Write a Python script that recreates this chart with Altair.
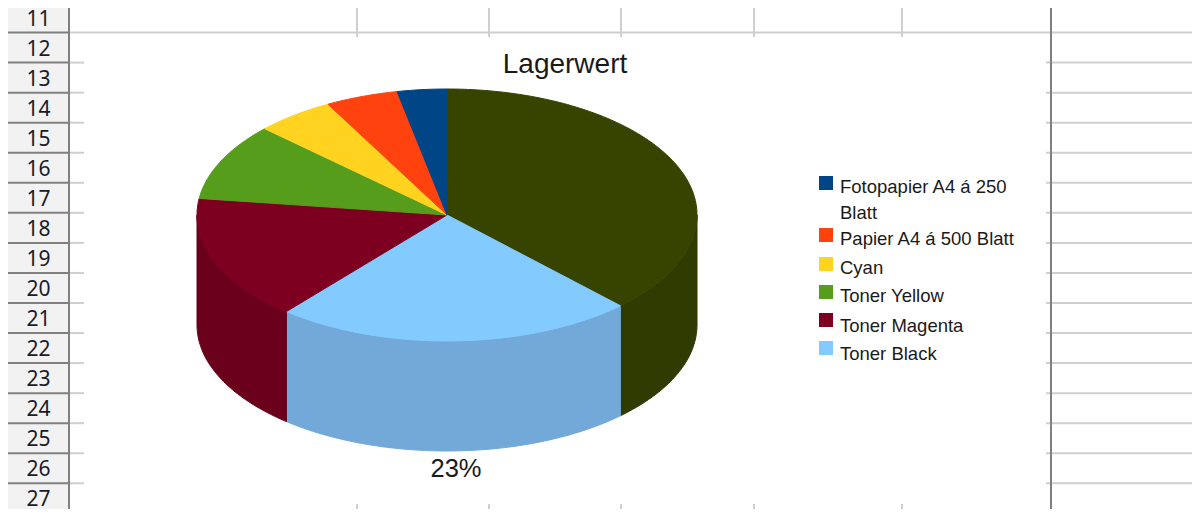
import math
import altair as alt
import pandas as pd

# --- chart values -------------------------------------------------------
slices = ["Toner Cyan", "Toner Black", "Toner Magenta", "Toner Yellow", "Cyan",
          "Papier A4 á 500 Blatt", "Fotopapier A4 á 250 Blatt"]
shares = [37.8, 23.3, 16.0, 9.9, 5.1, 4.7, 3.2]
top_colors = ["#364400", "#83caff", "#7e0021", "#579d1c", "#ffd320", "#ff420e", "#004586"]
side_colors = ["#2f3b00", "#72a9d8", "#6a001c", "#4b8818", "#dcb61c", "#dc390c", "#003c74"]
legend_order = ["Fotopapier A4 á 250 Blatt", "Papier A4 á 500 Blatt", "Cyan",
                "Toner Yellow", "Toner Magenta", "Toner Black"]
row_labels = [str(n) for n in range(11, 28)]
title_text = "Lagerwert"
pct_label = "23%"

# --- page geometry (screen pixels) --------------------------------------
X0, X1, Y0, Y1 = 8, 1192, 8, 509
CX, CY, RX, RY, DEPTH = 447, 215, 250, 126, 110
ROW_H = 30.05
ROW_TOP = 2.5
HDR = 69


def pt(deg, dy=0):
    a = math.radians(deg)
    return CX + RX * math.sin(a), CY - RY * math.cos(a) + dy


top_rows, side_rows = [], []
start = 0.0
for name, share in zip(slices, shares):
    end = start + share * 3.6
    poly = [(CX, CY)]
    n = max(2, int(end - start) + 2)
    poly += [pt(start + (end - start) * k / (n - 1)) for k in range(n)]
    poly.append((CX, CY))
    for i, (x, y) in enumerate(poly):
        top_rows.append(dict(key=name, i=i, x=x, y=y))
    a, b = max(start, 90), min(end, 270)
    if b > a:
        m = int(b - a) + 2
        arc = [a + (b - a) * k / (m - 1) for k in range(m)]
        ring = [pt(t) for t in arc] + [pt(t, DEPTH) for t in reversed(arc)]
        ring.append(ring[0])
        for i, (x, y) in enumerate(ring):
            side_rows.append(dict(key=name, i=i, x=x, y=y))
    start = end

X = alt.X("x:Q", scale=alt.Scale(domain=[X0, X1]), axis=None)
Y = alt.Y("y:Q", scale=alt.Scale(domain=[Y1, Y0]), axis=None)
X2 = alt.X2("x2:Q")
Y2 = alt.Y2("y2:Q")

# --- spreadsheet grid ---------------------------------------------------
row_ys = [ROW_TOP + ROW_H * (k + 1) for k in range(len(row_labels))]
row_lines = [y for y in row_ys if y < Y1]
hdr_bg = alt.Chart(pd.DataFrame([dict(x=X0, x2=HDR, y=Y0, y2=Y1)])).mark_rect(
    color="#f2f2f2").encode(x=X, x2=X2, y=Y, y2=Y2)

dark_rows = [dict(x=X0, x2=HDR, y=y, y2=y) for y in row_lines]
dark_cols = [dict(x=HDR, x2=HDR, y=Y0, y2=Y1), dict(x=1051, x2=1051, y=Y0, y2=Y1)]
light = []
light.append(dict(x=HDR, x2=X1, y=row_lines[0], y2=row_lines[0]))
for y in row_lines[1:]:
    light.append(dict(x=HDR, x2=84, y=y, y2=y))
    light.append(dict(x=1046, x2=X1, y=y, y2=y))
for cx in [357, 489, 621, 754, 902]:
    light.append(dict(x=cx, x2=cx, y=Y0, y2=37))
    light.append(dict(x=cx, x2=cx, y=504, y2=Y1))

light_rules = alt.Chart(pd.DataFrame(light)).mark_rule(
    color="#cfcfcf", strokeWidth=2).encode(x=X, x2=X2, y=Y, y2=Y2)
dark_rules = alt.Chart(pd.DataFrame(dark_rows + dark_cols)).mark_rule(
    color="#808080", strokeWidth=2).encode(x=X, x2=X2, y=Y, y2=Y2)

row_text = alt.Chart(pd.DataFrame(dict(
    label=row_labels,
    x=[38.5] * len(row_labels),
    y=[ROW_TOP + ROW_H * (k + 0.5) + 2 for k in range(len(row_labels))],
))).mark_text(font="Noto Sans", fontSize=21, color="#1a1a2a", align="center",
              baseline="middle").encode(x=X, y=Y, text="label:N")

# --- pie ----------------------------------------------------------------
sides = alt.Chart(pd.DataFrame(side_rows)).mark_line(strokeWidth=1).encode(
    x=X, y=Y, order="i:Q",
    fill=alt.Fill("key:N", scale=alt.Scale(domain=slices, range=side_colors), legend=None),
    stroke=alt.Stroke("key:N", scale=alt.Scale(domain=slices, range=side_colors), legend=None),
)
tops = alt.Chart(pd.DataFrame(top_rows)).mark_line(strokeWidth=1).encode(
    x=X, y=Y, order="i:Q",
    fill=alt.Fill("key:N", scale=alt.Scale(domain=slices, range=top_colors), legend=None),
    stroke=alt.Stroke("key:N", scale=alt.Scale(domain=slices, range=top_colors), legend=None),
)

# --- legend drawn as marks, rows follow the wrapped label ----------------
leg_sym, leg_txt = [], []
sym_ys = [183, 235, 264, 292, 320, 348]
txt_ys = [[187, 213], [239], [268], [296], [326], [354]]
wrapped = {"Fotopapier A4 á 250 Blatt": ["Fotopapier A4 á 250", "Blatt"]}
for name, sy, tys in zip(legend_order, sym_ys, txt_ys):
    leg_sym.append(dict(key=name, x=826, y=sy))
    for line, ty in zip(wrapped.get(name, [name]), tys):
        leg_txt.append(dict(t=line, x=840, y=ty))
legend_sym = alt.Chart(pd.DataFrame(leg_sym)).mark_square(size=196, opacity=1).encode(
    x=X, y=Y,
    color=alt.Color("key:N", scale=alt.Scale(domain=slices, range=top_colors), legend=None),
)
legend_txt = alt.Chart(pd.DataFrame(leg_txt)).mark_text(
    font="Liberation Sans", fontSize=18.5, align="left", baseline="middle", color="#1a1a1a"
).encode(x=X, y=Y, text="t:N")

title = alt.Chart(pd.DataFrame([dict(t=title_text, x=565, y=65)])).mark_text(
    font="Liberation Sans", fontSize=28, align="center", baseline="middle", color="#1a1a1a"
).encode(x=X, y=Y, text="t:N")
pct = alt.Chart(pd.DataFrame([dict(t=pct_label, x=456, y=469)])).mark_text(
    font="Liberation Sans", fontSize=25.5, align="center", baseline="middle", color="#1a1a1a"
).encode(x=X, y=Y, text="t:N")

chart = alt.layer(
    hdr_bg, light_rules, dark_rules, row_text, sides, tops,
    legend_sym, legend_txt, title, pct,
).resolve_scale(fill="independent", stroke="independent", color="independent").properties(
    width=X1 - X0, height=Y1 - Y0, padding=0,
    autosize=alt.AutoSizeParams(type="none"), background="white",
).configure_view(stroke=None)

chart.save("out.html", embed_options={"renderer": "svg", "actions": False})
